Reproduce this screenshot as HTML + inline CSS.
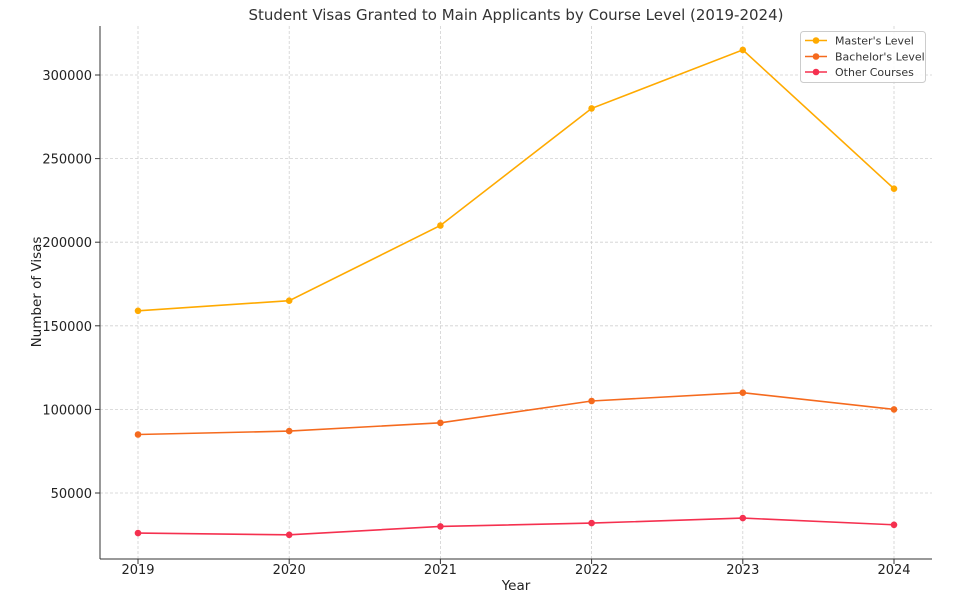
<!DOCTYPE html>
<html><head><meta charset="utf-8"><style>body{margin:0;background:#fff}</style></head><body>
<svg width="979" height="606" xmlns="http://www.w3.org/2000/svg" font-family="DejaVu Sans, Liberation Sans, sans-serif">
<rect width="979" height="606" fill="#fff"/>
<g stroke="#d0d0d0" stroke-width="0.8" stroke-dasharray="3,2">
<line x1="138" y1="26" x2="138" y2="559"/><line x1="289.2" y1="26" x2="289.2" y2="559"/>
<line x1="440.4" y1="26" x2="440.4" y2="559"/><line x1="591.6" y1="26" x2="591.6" y2="559"/>
<line x1="742.8" y1="26" x2="742.8" y2="559"/><line x1="894" y1="26" x2="894" y2="559"/>
<line x1="100" y1="75" x2="932" y2="75"/><line x1="100" y1="158.6" x2="932" y2="158.6"/>
<line x1="100" y1="242.2" x2="932" y2="242.2"/><line x1="100" y1="325.8" x2="932" y2="325.8"/>
<line x1="100" y1="409.4" x2="932" y2="409.4"/><line x1="100" y1="493" x2="932" y2="493"/>
</g>
<line x1="100" y1="26" x2="100" y2="559" stroke="#333" stroke-width="1"/>
<line x1="100" y1="559" x2="932" y2="559" stroke="#333" stroke-width="1"/>
<g stroke="#333"><line x1="95" y1="75" x2="100" y2="75"/><line x1="95" y1="158.6" x2="100" y2="158.6"/><line x1="95" y1="242.2" x2="100" y2="242.2"/><line x1="95" y1="325.8" x2="100" y2="325.8"/><line x1="95" y1="409.4" x2="100" y2="409.4"/><line x1="95" y1="493" x2="100" y2="493"/>
<line x1="138" y1="559" x2="138" y2="564"/><line x1="289.2" y1="559" x2="289.2" y2="564"/><line x1="440.4" y1="559" x2="440.4" y2="564"/><line x1="591.6" y1="559" x2="591.6" y2="564"/><line x1="742.8" y1="559" x2="742.8" y2="564"/><line x1="894" y1="559" x2="894" y2="564"/></g>
<g font-size="13" fill="#222" text-anchor="end">
<text x="92" y="80">300000</text><text x="92" y="163.6">250000</text><text x="92" y="247.2">200000</text><text x="92" y="330.8">150000</text><text x="92" y="414.4">100000</text><text x="92" y="498">50000</text></g>
<g font-size="13" fill="#222" text-anchor="middle">
<text x="138" y="574">2019</text><text x="289.2" y="574">2020</text><text x="440.4" y="574">2021</text><text x="591.6" y="574">2022</text><text x="742.8" y="574">2023</text><text x="894" y="574">2024</text>
<text x="516" y="590" font-size="13.5">Year</text>
<text x="516" y="20" font-size="15" fill="#333">Student Visas Granted to Main Applicants by Course Level (2019-2024)</text>
<text transform="translate(41,292) rotate(-90)" font-size="13.5">Number of Visas</text></g>
<g fill="none" stroke-width="1.6">
<polyline stroke="#ffaa00" points="138,310.8 289.2,300.7 440.4,225.5 591.6,108.4 742.8,49.9 894,188.7"/>
<polyline stroke="#f56a1e" points="138,434.5 289.2,431.1 440.4,422.8 591.6,401 742.8,392.7 894,409.4"/>
<polyline stroke="#f5304f" points="138,533.1 289.2,534.8 440.4,526.4 591.6,523.1 742.8,518.1 894,524.8"/>
</g>
<g fill="#ffaa00"><circle cx="138" cy="310.8" r="3.3"/><circle cx="289.2" cy="300.7" r="3.3"/><circle cx="440.4" cy="225.5" r="3.3"/><circle cx="591.6" cy="108.4" r="3.3"/><circle cx="742.8" cy="49.9" r="3.3"/><circle cx="894" cy="188.7" r="3.3"/></g>
<g fill="#f56a1e"><circle cx="138" cy="434.5" r="3.3"/><circle cx="289.2" cy="431.1" r="3.3"/><circle cx="440.4" cy="422.8" r="3.3"/><circle cx="591.6" cy="401" r="3.3"/><circle cx="742.8" cy="392.7" r="3.3"/><circle cx="894" cy="409.4" r="3.3"/></g>
<g fill="#f5304f"><circle cx="138" cy="533.1" r="3.3"/><circle cx="289.2" cy="534.8" r="3.3"/><circle cx="440.4" cy="526.4" r="3.3"/><circle cx="591.6" cy="523.1" r="3.3"/><circle cx="742.8" cy="518.1" r="3.3"/><circle cx="894" cy="524.8" r="3.3"/></g>
<rect x="800.5" y="31.5" width="125" height="51" rx="3" fill="#fff" fill-opacity="0.85" stroke="#ccc"/>
<g stroke-width="1.6"><line x1="805" y1="40.5" x2="827" y2="40.5" stroke="#ffaa00"/><line x1="805" y1="56.5" x2="827" y2="56.5" stroke="#f56a1e"/><line x1="805" y1="72" x2="827" y2="72" stroke="#f5304f"/></g>
<circle cx="816" cy="40.5" r="3.3" fill="#ffaa00"/><circle cx="816" cy="56.5" r="3.3" fill="#f56a1e"/><circle cx="816" cy="72" r="3.3" fill="#f5304f"/>
<g font-size="11" fill="#333"><text x="835" y="44.5">Master's Level</text><text x="835" y="60.5">Bachelor's Level</text><text x="835" y="76">Other Courses</text></g>
</svg>
</body></html>
